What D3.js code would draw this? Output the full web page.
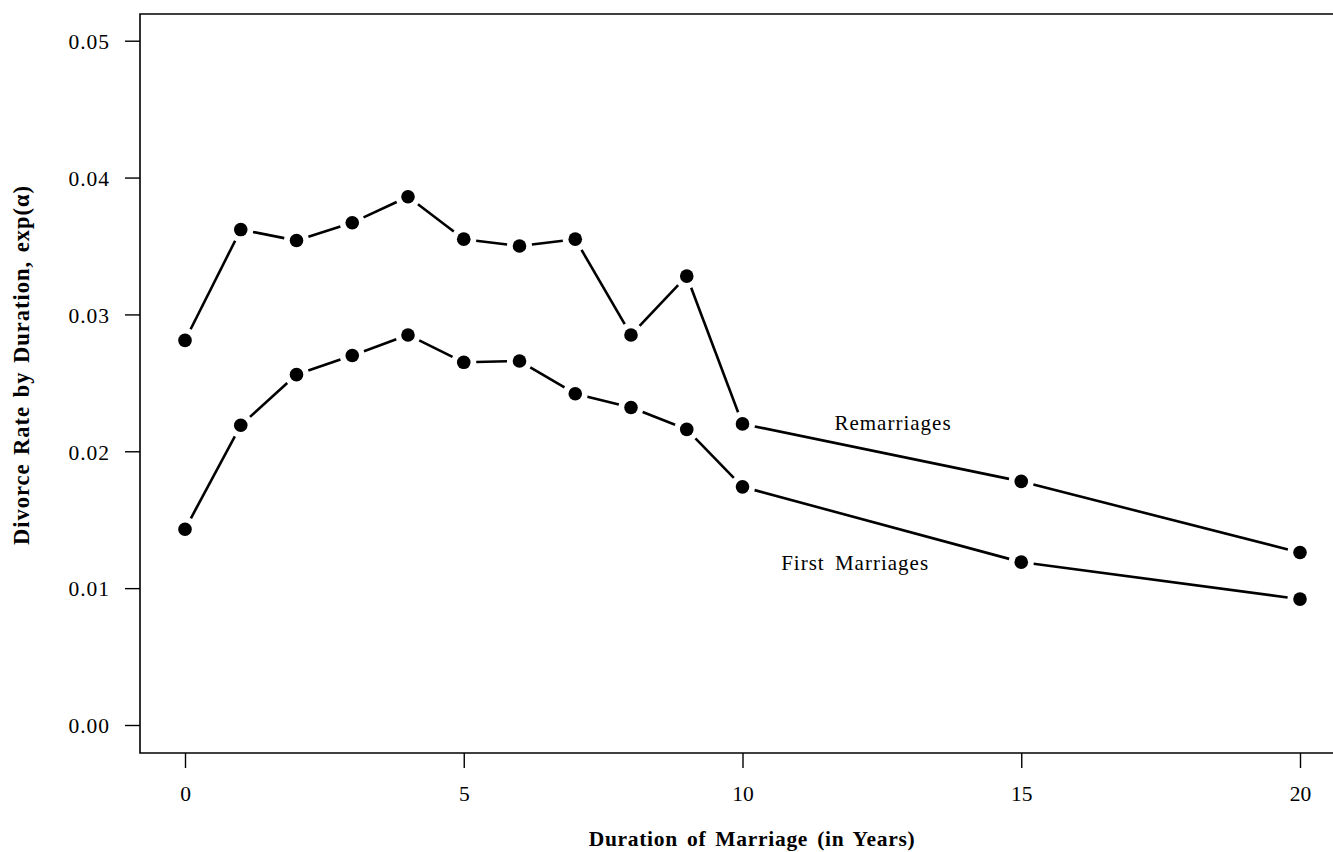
<!DOCTYPE html>
<html>
<head>
<meta charset="utf-8">
<script src="https://cdn.jsdelivr.net/npm/d3@7"></script>
<style>
  html, body { margin: 0; padding: 0; background: #fff; }
  svg { display: block; font-family: "Liberation Serif", "Times New Roman", serif; }
</style>
</head>
<body>
<svg id="chart" width="1333" height="852"></svg>
<script>
// ---- data ----
const durations = [0, 1, 2, 3, 4, 5, 6, 7, 8, 9, 10, 15, 20];
const remarriages = [0.0281, 0.0362, 0.0354, 0.0367, 0.0386, 0.0355, 0.0350, 0.0355, 0.0285, 0.0328, 0.0220, 0.0178, 0.0126];
const firstMarriages = [0.0143, 0.0219, 0.0256, 0.0270, 0.0285, 0.0265, 0.0266, 0.0242, 0.0232, 0.0216, 0.0174, 0.0119, 0.0092];
const xTicks = [0, 5, 10, 15, 20];
const yTicks = [0.00, 0.01, 0.02, 0.03, 0.04, 0.05];
const seriesLabels = ["Remarriages", "First Marriages"];
const labelAnchors = [[12.7, 0.02155], [12.02, 0.01133]];
const xTitle = "Duration of Marriage (in Years)";
const yTitle = "Divorce Rate by Duration, exp(\u03B1)";

// ---- layout ----
const svg = d3.select("#chart");
const frame = { left: 140, top: 14, right: 1340, bottom: 753 };
const x = d3.scaleLinear().domain([0, 20]).range([185, 1300]);
const y = d3.scaleLinear().domain([0, 0.05]).range([725, 40.7]);

// frame
svg.append("path")
  .attr("d", `M${frame.right},${frame.top}H${frame.left}V${frame.bottom}H${frame.right}`)
  .attr("fill", "none").attr("stroke", "#000").attr("stroke-width", 1.6);

// y axis
const yAxis = svg.append("g").attr("transform", `translate(${frame.left},0)`)
  .call(d3.axisLeft(y).tickValues(yTicks).tickFormat(d3.format(".2f")).tickSize(15).tickPadding(15));
yAxis.select(".domain").remove();
yAxis.selectAll(".tick line").attr("stroke", "#000").attr("stroke-width", 1.4);
yAxis.selectAll(".tick text")
  .attr("font-family", "Liberation Serif").attr("font-size", 21.5)
  .attr("letter-spacing", 1).attr("fill", "#000").attr("dy", "0.36em");

// x axis
const xAxis = svg.append("g").attr("transform", `translate(0,${frame.bottom})`)
  .call(d3.axisBottom(x).tickValues(xTicks).tickFormat(d3.format("d")).tickSize(15).tickPadding(18));
xAxis.select(".domain").remove();
xAxis.selectAll(".tick line").attr("stroke", "#000").attr("stroke-width", 1.4);
xAxis.selectAll(".tick text")
  .attr("font-family", "Liberation Serif").attr("font-size", 21.5).attr("fill", "#000");

// titles
svg.append("text")
  .attr("x", 752).attr("y", 846).attr("text-anchor", "middle")
  .attr("font-weight", "bold").attr("font-size", 21.5).attr("letter-spacing", 0.7)
  .attr("word-spacing", 3)
  .text(xTitle);
svg.append("text")
  .attr("transform", "translate(29,365) rotate(-90)")
  .attr("text-anchor", "middle")
  .attr("font-weight", "bold").attr("font-size", 22.5).attr("letter-spacing", 1)
  .attr("word-spacing", 2)
  .text(yTitle);

// series: lines with gaps around markers, then markers
const gap = 12.5;
function drawSeries(values) {
  const pts = durations.map((d, i) => [x(d), y(values[i])]);
  const segs = d3.pairs(pts).map(([a, b]) => {
    const dx = b[0] - a[0], dy = b[1] - a[1];
    const len = Math.hypot(dx, dy);
    const ux = dx / len, uy = dy / len;
    return [a[0] + ux * gap, a[1] + uy * gap, b[0] - ux * gap, b[1] - uy * gap];
  });
  const g = svg.append("g");
  g.selectAll("line").data(segs).join("line")
    .attr("x1", s => s[0]).attr("y1", s => s[1])
    .attr("x2", s => s[2]).attr("y2", s => s[3])
    .attr("stroke", "#000").attr("stroke-width", 2.6);
  g.selectAll("circle").data(pts).join("circle")
    .attr("cx", p => p[0]).attr("cy", p => p[1]).attr("r", 6.8).attr("fill", "#000");
}
drawSeries(remarriages);
drawSeries(firstMarriages);

// series labels
svg.selectAll("text.series-label").data(seriesLabels).join("text")
  .attr("class", "series-label")
  .attr("x", (d, i) => x(labelAnchors[i][0]))
  .attr("y", (d, i) => y(labelAnchors[i][1]))
  .attr("text-anchor", "middle").attr("font-size", 21).attr("letter-spacing", 1)
  .attr("word-spacing", 4)
  .text(d => d);
</script>
</body>
</html>
